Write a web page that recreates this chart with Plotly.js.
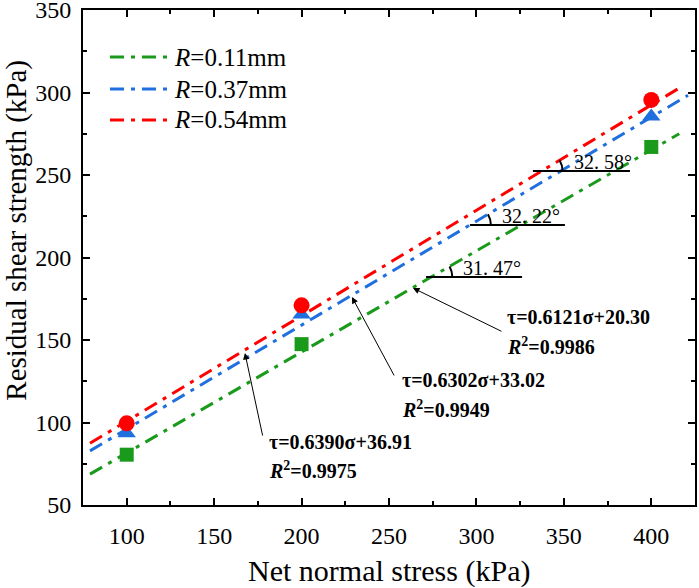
<!DOCTYPE html>
<html>
<head>
<meta charset="utf-8">
<script src="https://cdn.plot.ly/plotly-3.0.1.min.js"></script>
<style>
  html, body { margin: 0; padding: 0; background: #fff; }
  #myDiv { width: 699px; height: 588px; }
</style>
</head>
<body>
<div id="myDiv"></div>
<script>
// measured points
const stress = [100, 200, 400];
const tauR011 = [80.5, 147.5, 267];
const tauR037 = [93.5, 165.5, 285.5];
const tauR054 = [99.5, 171, 295.5];

// fitted lines (end points)
const fitX011 = [79, 416];
const fitY011 = [68.7, 275.0];
const fitX037 = [79, 421];
const fitY037 = [82.8, 298.3];
const fitX054 = [79, 416];
const fitY054 = [87.4, 302.7];

const legendNames = ['<i>R</i>=0.11mm', '<i>R</i>=0.37mm', '<i>R</i>=0.54mm'];
const colors = ['#1a9a1a', '#1f6fdf', '#ff0000'];
const symbols = ['square', 'triangle-up', 'circle'];

// fit equations and friction angles
const equations = ['τ=0.6121σ+20.30', 'τ=0.6302σ+33.02', 'τ=0.6390σ+36.91'];
const rSquared = ['0.9986', '0.9949', '0.9975'];
const angleText = ['31. 47°', '32. 22°', '32. 58°'];
const angleLevel = [188.2, 219.7, 252.4];
const angleFrom = [271.2, 296.3, 332.3];
const angleTo = [326.1, 350.6, 387.8];

const xTicks = [100, 150, 200, 250, 300, 350, 400];
const yTicks = [50, 100, 150, 200, 250, 300, 350];
const xRange = [75, 425];
const yRange = [50, 350];
const dashPat = '14px,7px,4px,7px';
const serif = 'Liberation Serif';

const fits = [[fitX011, fitY011], [fitX037, fitY037], [fitX054, fitY054]];
const pts = [tauR011, tauR037, tauR054];

var data = [];
for (let i = 0; i < 3; i++) {
    data.push({
        x: fits[i][0],
        y: fits[i][1],
        type: 'scatter',
        mode: 'lines',
        line: { color: colors[i], width: 3, dash: dashPat },
        showlegend: false,
        hoverinfo: 'skip'
    });
}
for (let i = 0; i < 3; i++) {
    data.push({
        x: stress,
        y: pts[i],
        type: 'scatter',
        mode: 'markers',
        marker: { color: colors[i], symbol: symbols[i], size: i == 0 ? 14 : 16 },
        showlegend: false,
        cliponaxis: false
    });
}

// pixel sizes of one data unit (plot area 612 x 495 px)
const kx = 612 / (xRange[1] - xRange[0]);
const ky = 495 / (yRange[1] - yRange[0]);

var shapes = [];
var annotations = [];

// manual legend
const legY = [0.905, 0.8404, 0.7778];
for (let i = 0; i < 3; i++) {
    shapes.push({
        type: 'line', xref: 'paper', yref: 'paper',
        x0: 0.0441, x1: 0.1422, y0: legY[i], y1: legY[i],
        line: { color: colors[i], width: 3, dash: dashPat }
    });
    annotations.push({
        xref: 'paper', yref: 'paper', x: 0.1454, y: legY[i],
        xanchor: 'left', yanchor: 'middle', showarrow: false,
        text: legendNames[i],
        font: { family: serif, size: 25, color: '#000' }
    });
}

// angle markers
for (let i = 0; i < 3; i++) {
    const fx = fits[i][0], fy = fits[i][1];
    const m = (fy[1] - fy[0]) / (fx[1] - fx[0]);
    const y0 = angleLevel[i];
    const x0 = fx[0] + (y0 - fy[0]) / m;
    const th = Math.atan(m * ky / kx);
    const r = 21;
    const p0x = x0 + r / kx, p0y = y0;
    const cx = x0 + r / kx, cy = y0 + r * Math.tan(th / 2) / ky;
    const p2x = x0 + r * Math.cos(th) / kx, p2y = y0 + r * Math.sin(th) / ky;
    shapes.push({
        type: 'line', xref: 'x', yref: 'y',
        x0: angleFrom[i], x1: angleTo[i], y0: y0, y1: y0,
        line: { color: '#000', width: 2 }
    });
    shapes.push({
        type: 'path', xref: 'x', yref: 'y',
        path: 'M' + p0x + ',' + p0y + ' Q' + cx + ',' + cy + ' ' + p2x + ',' + p2y,
        line: { color: '#000', width: 2 }
    });
    annotations.push({
        xref: 'x', yref: 'y', x: x0 + (r + 9) / kx, y: y0 + 9 / ky,
        xanchor: 'left', yanchor: 'middle', showarrow: false,
        text: angleText[i],
        font: { family: serif, size: 20, color: '#000' }
    });
}

// equation labels with arrows
const eqX = [316.3, 256.3, 180.2];
const eqY = [163.9, 125.8, 88.2];
const r2Y = [146.4, 108.2, 71.2];
const headX = [263.7, 228.8, 167.6];
const headY = [181.5, 176.1, 142.1];
const tailDX = [90, 43, 18];
const tailDY = [44, 80, 84];
for (let i = 0; i < 3; i++) {
    annotations.push({
        xref: 'x', yref: 'y', x: eqX[i], y: eqY[i],
        xanchor: 'left', yanchor: 'middle', showarrow: false,
        text: '<b>' + equations[i] + '</b>',
        font: { family: serif, size: 20, color: '#000' }
    });
    annotations.push({
        xref: 'x', yref: 'y', x: eqX[i], y: r2Y[i],
        xanchor: 'left', yanchor: 'middle', showarrow: false,
        text: '<b><i>R</i><sup>2</sup>=' + rSquared[i] + '</b>',
        font: { family: serif, size: 20, color: '#000' }
    });
    annotations.push({
        xref: 'x', yref: 'y', x: headX[i], y: headY[i],
        ax: tailDX[i], ay: tailDY[i], text: '',
        showarrow: true, arrowhead: 2, arrowsize: 1.3, arrowwidth: 1, arrowcolor: '#000'
    });
}

// axis titles
annotations.push({
    xref: 'paper', yref: 'paper', x: 0.5, y: -0.1333,
    xanchor: 'center', yanchor: 'middle', showarrow: false,
    text: 'Net normal stress (kPa)',
    font: { family: serif, size: 30, color: '#000' }
});
annotations.push({
    xref: 'paper', yref: 'paper', x: -0.108, y: 0.556,
    xanchor: 'center', yanchor: 'middle', showarrow: false, textangle: -90,
    text: 'Residual shear strength (kPa)',
    font: { family: serif, size: 29, color: '#000' }
});

const axisCommon = {
    showline: true, linecolor: '#000', linewidth: 2, mirror: 'allticks',
    ticks: 'inside', ticklen: 7, tickwidth: 2, tickcolor: '#000',
    minor: { ticks: 'inside', ticklen: 4, tickwidth: 2, tickcolor: '#000', dtick: 25 },
    showgrid: false, zeroline: false,
    tickfont: { family: serif, size: 24, color: '#000' },
    tickmode: 'array', ticklabeloverflow: 'allow'
};

var layout = {
    width: 699, height: 588,
    margin: { l: 83, r: 4, t: 10, b: 83 },
    paper_bgcolor: '#fff', plot_bgcolor: '#fff',
    showlegend: false,
    xaxis: Object.assign({}, axisCommon, { range: xRange, tickvals: xTicks, ticktext: xTicks.map(String), ticklabelstandoff: 8 }),
    yaxis: Object.assign({}, axisCommon, { range: yRange, tickvals: yTicks, ticktext: yTicks.map(String), ticklabelstandoff: 5 }),
    shapes: shapes,
    annotations: annotations
};

Plotly.newPlot('myDiv', data, layout, { staticPlot: true });
</script>
</body>
</html>
